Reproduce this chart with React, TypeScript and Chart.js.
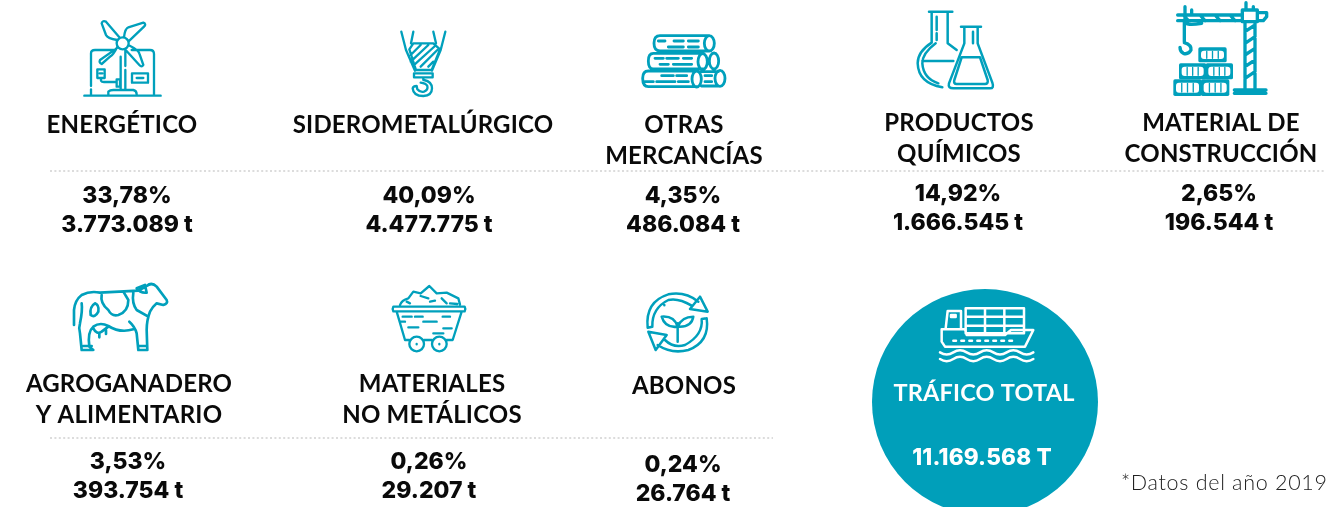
import React, { useEffect, useRef } from "react";
import { Chart, registerables } from "chart.js";

Chart.register(...registerables);

const categories = [
  ["ENERGÉTICO"],
  ["SIDEROMETALÚRGICO"],
  ["OTRAS", "MERCANCÍAS"],
  ["PRODUCTOS", "QUÍMICOS"],
  ["MATERIAL DE", "CONSTRUCCIÓN"],
  ["AGROGANADERO", "Y ALIMENTARIO"],
  ["MATERIALES", "NO METÁLICOS"],
  ["ABONOS"],
];
const shares = ["33,78%", "40,09%", "4,35%", "14,92%", "2,65%", "3,53%", "0,26%", "0,24%"];
const tonnes = ["3.773.089 t", "4.477.775 t", "486.084 t", "1.666.545 t", "196.544 t", "393.754 t", "29.207 t", "26.764 t"];
const totalLabel = "TRÁFICO TOTAL";
const totalValue = "11.169.568 T";
const footnote = "*Datos del año 2019";

// layout: label centre x, first label line centre y, value centre x, share centre y
const labelX = [122, 423, 684, 959, 1221, 129, 432, 684];
const labelY = [125, 125, 125, 123, 123, 384, 384, 386];
const valueX = [127, 429, 683, 958, 1219, 128, 429, 683];
const valueY = [196, 196, 196, 194, 194, 462, 462, 465];

const TEAL = "#00A0BC";

type Dash = [number, number, number];
const dashes = (list: Dash[]) => list.map(([y, a, b]) => `M${a} ${y}H${b}`).join("");

const windTurbine = [
  "M352 120Q322 115 318 105L305 70Q308 60 318 65L358 112",
  "M372 112Q375 85 385 82L430 68Q440 72 432 80L385 125",
  "M385 135Q415 150 418 160L430 195Q425 203 418 195L375 148",
  "M352 140Q340 165 330 170L305 192Q296 188 300 180L350 145",
  "M386 130A18 18 0 1 1 350 130A18 18 0 1 1 386 130",
  "M362 170V270M376 150V198M376 210V270M325 283V275Q330 270 340 270H400Q410 272 410 283M253 287H482",
  "M273 258V160Q273 150 285 150H345M273 268V285M395 150H450Q462 150 462 162V283",
  "M292 208H314V234H292ZM299 220H307M303 234V242Q305 246 312 246H350M350 238H360V260H350Z",
  "M396 220H444V248H396ZM410 234H430",
].join("");
const hook = [
  "M1204 95L1218 150L1245 212M1336 95L1322 150L1296 212M1240 95L1233 130M1300 95L1308 130",
  "M1228 148L1240 130H1300L1320 148L1295 210H1248Z",
  "M1232 165L1262 135M1232 185L1285 135M1240 197L1305 138M1262 200L1312 150M1285 200L1300 185",
  "M1242 220H1298V232H1242Z",
  "M1270 232V240M1272 240Q1296 245 1296 265Q1296 287 1270 288Q1240 288 1238 265Q1240 258 1250 258L1252 268Q1260 278 1272 275Q1285 270 1282 258Q1278 250 1262 248",
].join("");
const logs = [
  "M235 32H90Q72 32 72 55Q72 78 90 78H235",
  "M238 32A15 23 0 1 1 238 78A15 23 0 1 1 238 32",
  "M220 85H70Q55 85 55 108Q55 132 70 132H220",
  "M218 86A14 24 0 1 1 218 134A14 24 0 1 1 218 86M252 84A14 24 0 1 1 252 132A14 24 0 1 1 252 84",
  "M200 138H55Q38 138 38 160Q38 185 55 185H200",
  "M200 138A14 24 0 1 1 200 186A14 24 0 1 1 200 138M270 136A15 24 0 1 1 270 184A15 24 0 1 1 270 136M214 140H265M214 183H265",
  dashes([[48, 85, 105], [48, 132, 160], [48, 175, 205], [66, 115, 160], [66, 175, 205], [100, 75, 100], [100, 110, 145], [100, 160, 185], [118, 90, 115], [118, 130, 185], [152, 95, 130], [152, 140, 170], [170, 45, 70], [170, 80, 135], [170, 145, 175], [152, 225, 245], [170, 225, 245]]),
].join("");
const flasks = [
  "M72 35H142M80 35V128Q38 155 38 190Q40 250 112 262M128 35V130L155 150",
  "M95 50V90M95 100V120M92 130Q52 160 52 190Q55 235 100 250M52 183H145",
  "M168 80H228M178 80V130L132 250Q128 265 145 265H255Q268 265 262 248L218 130V80",
  "M170 172H225L248 240Q250 252 240 252H155Q145 252 148 240ZM204 95V130",
].join("");
const craneLines = [
  "M38 45H232M38 62H232M60 20V70M80 30V45M55 45L70 62M105 45L120 62M150 45L165 62M195 45L210 62",
  "M232 30H277V65H232ZM277 38H305V50L295 62H277M243 8V30M265 20V30",
  "M240 65V265M270 65V265",
  "M240 95L270 75M240 130L270 110M240 165L270 145M240 200L270 180M240 235L270 215",
  "M60 65Q62 78 110 70M58 65V125M58 128Q80 135 78 150Q70 165 55 160Q45 155 45 142",
  "M208 270H303M208 280H303",
].join("");
const crateBoxes: [number, number, number, number][] = [
  [100, 142, 85, 45], [42, 190, 82, 48], [122, 190, 82, 48], [25, 238, 85, 50], [108, 238, 85, 50],
];
const cow = [
  "M222 165V120Q225 90 245 75Q270 62 300 68L415 62Q430 55 440 48Q455 35 470 50L500 90Q505 100 490 105L470 100Q460 108 450 125Q440 150 440 180L442 240H415L410 190Q405 170 388 155",
  "M400 178Q360 190 325 168Q300 155 280 170Q262 185 268 230L280 240H245L240 190Q235 175 240 160Q248 120 245 100",
  "M305 75Q300 100 325 120Q335 140 355 135Q385 125 385 90L370 65",
  "M400 68Q395 100 410 120L445 140",
  "M285 100Q268 110 272 135Q285 145 295 125Q298 105 285 100Z",
  "M280 175Q290 195 305 185L325 170M298 190V202M318 180V192",
  "M410 55L435 45L440 68Q420 70 410 55M250 228H275M418 228H440",
].join("");
const cart = [
  "M1180 110H1394Q1398 117 1394 124H1180Q1176 117 1180 110Z",
  "M1190 125L1215 210H1228M1272 210H1296M1340 210H1358L1385 125",
  "M1272 222A22 22 0 1 1 1228 222A22 22 0 1 1 1272 222M1340 222A22 22 0 1 1 1296 222A22 22 0 1 1 1340 222",
  "M1250 222V223M1318 222V223",
  "M1200 105Q1205 90 1225 85L1240 65L1262 70L1288 48L1310 70L1340 68L1375 85L1380 103",
  "M1262 78L1285 85M1220 95L1230 100M1290 95L1305 92M1325 85L1340 100M1350 100L1372 102",
  dashes([[140, 1208, 1235], [140, 1245, 1268], [140, 1328, 1350], [155, 1270, 1310], [155, 1200, 1215], [172, 1225, 1255], [175, 1330, 1355], [190, 1300, 1330]]),
].join("");
const recycle = [
  "M38 128Q30 50 100 28Q150 18 190 50M52 125Q50 70 100 45Q130 38 170 62M38 128L52 125",
  "M215 100Q225 170 160 195Q110 208 68 180M200 102Q205 150 150 180Q115 190 90 165M215 100L200 102",
  "M195 35L218 80L165 72ZM62 195L40 140L95 150Z",
  "M128 115V170M128 125Q90 130 80 95Q118 92 128 125Q140 95 175 95Q170 128 128 125",
  "M88 60V61",
].join("");
const ship = [
  "M122 40H297V115H122ZM180 40V115M238 40V115M122 65H297M122 92H297",
  "M62 100L68 48H108V100M78 60H92V66H78Z",
  "M50 103V140L60 155H300L325 105H258L240 120H125L120 103Z",
  "M85 137H93M109 137H117M133 137H141M157 137H165M181 137H189M205 137H213M229 137H237M253 137H261",
  "M45 172Q65 185 85 172T125 172T165 172T205 172T245 172T285 172T325 172",
  "M45 192Q65 205 85 192T125 192T165 192T205 192T245 192T285 192T325 192",
].join("");

// icon: path in 3x crop units, origin of the crop on the page, stroke width, colour
const icons: [string, number, number, number, string][] = [
  [windTurbine, 0, 0, 7, TEAL],
  [hook, 0, 0, 7, TEAL],
  [logs, 630, 25, 8.5, TEAL],
  [flasks, 905, 0, 7.5, TEAL],
  [craneLines, 1165, 0, 10, TEAL],
  [cow, 0, 270, 8, TEAL],
  [cart, 0, 270, 7, TEAL],
  [recycle, 635, 285, 7.5, TEAL],
  [ship, 925, 295, 7.5, "#ffffff"],
];

const separators = [
  { x0: 50, x1: 1326, y: 171 },
  { x0: 50, x1: 773, y: 438 },
];

const infographic = {
  id: "infographic",
  afterDatasetsDraw(chart: any) {
    const { ctx, scales } = chart;
    const px = (v: number) => scales.x.getPixelForValue(v);
    const py = (v: number) => scales.y.getPixelForValue(v);
    ctx.save();
    ctx.lineCap = "round";
    ctx.lineJoin = "round";
    for (const [d, ox, oy, w, color] of icons) {
      ctx.save();
      ctx.translate(px(ox), py(oy));
      ctx.scale(1 / 3, 1 / 3);
      ctx.strokeStyle = color;
      ctx.lineWidth = w;
      ctx.stroke(new Path2D(d));
      ctx.restore();
    }
    // crates of the crane icon
    ctx.save();
    ctx.translate(px(1165), py(0));
    ctx.scale(1 / 3, 1 / 3);
    for (const [x, y, w, h] of crateBoxes) {
      ctx.fillStyle = TEAL;
      ctx.beginPath();
      ctx.roundRect(x, y, w, h, 5);
      ctx.fill();
      ctx.fillStyle = "#fff";
      ctx.beginPath();
      ctx.roundRect(x + 8, y + 10, w - 16, h - 20, 9);
      ctx.fill();
      ctx.strokeStyle = TEAL;
      ctx.lineWidth = 4;
      ctx.beginPath();
      for (let k = 1; k <= 3; k++) {
        const bx = x + 8 + ((w - 16) * k) / 4;
        ctx.moveTo(bx, y + 12);
        ctx.lineTo(bx, y + h - 12);
      }
      ctx.stroke();
    }
    ctx.restore();

    ctx.textAlign = "center";
    ctx.textBaseline = "middle";
    ctx.fillStyle = "#0a0a0a";
    categories.forEach((lines, i) => {
      ctx.font = "700 24px Lato, Inter, sans-serif";
      ctx.letterSpacing = "0.2px";
      lines.forEach((t, j) => ctx.fillText(t, px(labelX[i]), py(labelY[i] + j * 31.5)));
      ctx.font = "800 23px Inter, sans-serif";
      ctx.letterSpacing = "0px";
      ctx.fillText(shares[i], px(valueX[i]), py(valueY[i]));
      ctx.fillText(tonnes[i], px(valueX[i]), py(valueY[i] + 29));
    });
    ctx.fillStyle = "#fff";
    ctx.font = "700 23.5px Lato, sans-serif";
    ctx.letterSpacing = "0.2px";
    ctx.fillText(totalLabel, px(984), py(393));
    ctx.font = "800 22.5px Inter, sans-serif";
    ctx.fillText(totalValue, px(982), py(458));
    ctx.fillStyle = "#222";
    ctx.textAlign = "left";
    ctx.font = "300 21.5px Lato, sans-serif";
    ctx.letterSpacing = "0.7px";
    ctx.fillText(footnote, px(1121), py(483));
    ctx.restore();
  },
};

export default function App() {
  const ref = useRef<HTMLCanvasElement>(null);
  useEffect(() => {
    const chart = new Chart(ref.current!, {
      type: "scatter",
      data: {
        datasets: [
          ...separators.map((s) => ({
            type: "line" as const,
            data: [{ x: s.x0, y: s.y }, { x: s.x1, y: s.y }],
            borderColor: "#dcdcdc",
            borderWidth: 2,
            borderDash: [2, 2.4],
            pointRadius: 0,
          })),
          {
            type: "bubble" as const,
            data: [{ x: 985, y: 402, r: 113 }],
            backgroundColor: "#009FBA",
            borderWidth: 0,
            clip: false,
          },
        ],
      } as any,
      options: {
        responsive: false,
        animation: false,
        layout: { padding: 0, autoPadding: false },
        plugins: { legend: { display: false }, tooltip: { enabled: false } },
        scales: {
          x: { type: "linear", min: 0, max: 1326, display: false },
          y: { type: "linear", min: 0, max: 507, reverse: true, display: false },
        },
      },
      plugins: [infographic],
    });
    return () => chart.destroy();
  }, []);
  return (
    <div style={{ position: "absolute", left: 0, top: 0, width: 1326, height: 507, background: "#fff" }}>
      <canvas ref={ref} width={1326} height={507} style={{ display: "block" }} />
    </div>
  );
}
